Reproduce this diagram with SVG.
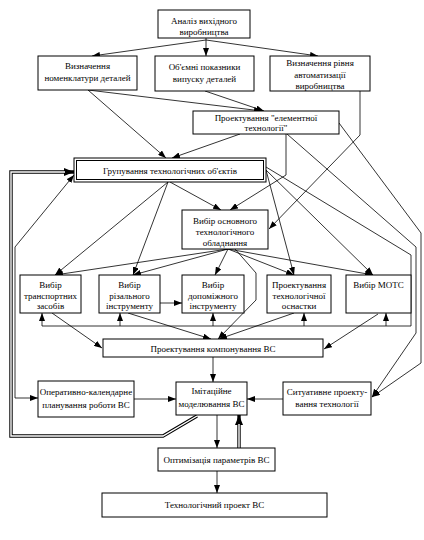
<svg xmlns="http://www.w3.org/2000/svg" width="424" height="540" viewBox="0 0 424 540">
<defs>
<marker id="a" viewBox="0 0 8 6" refX="8" refY="3" markerWidth="8" markerHeight="6" markerUnits="userSpaceOnUse" orient="auto"><path d="M0,0 L8,3 L0,6 z" fill="#000"/></marker>
<marker id="s" viewBox="0 0 8 6" refX="0" refY="3" markerWidth="8" markerHeight="6" markerUnits="userSpaceOnUse" orient="auto"><path d="M8,0 L0,3 L8,6 z" fill="#000"/></marker>
<marker id="b" viewBox="0 0 10 8" refX="10" refY="4" markerWidth="10" markerHeight="8" markerUnits="userSpaceOnUse" orient="auto"><path d="M0,0 L10,4 L0,8 z" fill="#000"/></marker>
<style>
rect{fill:#fff;stroke:#000;stroke-width:1}
text{font-family:"Liberation Serif","Times New Roman",serif;font-size:9px;fill:#000;text-anchor:middle}
.c path{fill:none;stroke:#000;stroke-width:0.8}
.c .dbo{stroke-width:3.4}
.c .dbi{stroke:#fff;stroke-width:1.4}
</style>
</defs>
<rect x="0" y="0" width="424" height="540" style="fill:#fff;stroke:none"/>
<g class="c" id="connectors">
<path d="M206,40 L92,56" marker-end="url(#a)"/>
<path d="M206,38 L206,56" marker-end="url(#a)"/>
<path d="M206,40 L318,56" marker-end="url(#a)"/>
<path d="M88,90 L262,111" marker-end="url(#a)"/>
<path d="M205,91 L264,111" marker-end="url(#a)"/>
<path d="M88,90 L166,158" marker-end="url(#a)"/>
<path d="M240,134 L172,158" marker-end="url(#a)"/>
<path d="M360,91 L360,135 L269,229" marker-end="url(#a)"/>
<path d="M286,134 L286,175 L230,210" marker-end="url(#a)"/>
<path d="M170,182 L221,210" marker-end="url(#a)"/>
<path d="M168,182 L55,275" marker-end="url(#a)"/>
<path d="M168,182 L133,275" marker-end="url(#a)"/>
<path d="M266,170 L294,275" marker-end="url(#a)"/>
<path d="M266,170 L373,275" marker-end="url(#a)"/>
<path d="M266,167 L411,255 L411,326 L42,326"/>
<path d="M42,326 L42,313" marker-end="url(#a)"/>
<path d="M120,326 L120,313" marker-end="url(#a)"/>
<path d="M213,326 L213,313" marker-end="url(#a)"/>
<path d="M304,326 L304,313" marker-end="url(#a)"/>
<path d="M386,326 L386,313" marker-end="url(#a)"/>
<path d="M287,134 L416,247 L416,333 L372,397" marker-end="url(#a)"/>
<path d="M339,123 L421,233 L421,363 L372,397" marker-end="url(#a)"/>
<path d="M228,249 L55,275" marker-end="url(#a)"/>
<path d="M228,249 L133,275" marker-end="url(#a)"/>
<path d="M228,249 L215,275" marker-end="url(#a)"/>
<path d="M228,249 L294,275" marker-end="url(#a)"/>
<path d="M228,249 L373,275" marker-end="url(#a)"/>
<path d="M235,249 L256,273 L256,300 L218,339" marker-end="url(#a)"/>
<path d="M160,303 L182,303" marker-end="url(#a)"/>
<path d="M52,313 L102,348" marker-end="url(#a)"/>
<path d="M128,313 L211,339" marker-end="url(#a)"/>
<path d="M294,313 L219,339" marker-end="url(#a)"/>
<path d="M378,314 L324,349" marker-end="url(#a)"/>
<path d="M213,357 L213,382" marker-end="url(#a)"/>
<path d="M134,399 L176,399" marker-end="url(#a)"/>
<path d="M283,399 L247,399" marker-end="url(#a)"/>
<path d="M217,415 L217,448" marker-end="url(#a)"/>
<path d="M217,471 L217,493" marker-end="url(#a)"/>
<path d="M74,175 L15,247 L15,398 L38,398" marker-start="url(#s)" marker-end="url(#a)"/>
<path class="dbo" d="M197,416 L163,436 L11,436 L11,172 L74,172" marker-end="url(#b)"/>
<path class="dbi" d="M197,416 L163,436 L11,436 L11,172 L65,172"/>
<path class="dbo" d="M239,448 L239,415" marker-end="url(#b)"/>
<path class="dbi" d="M239,448 L239,424"/>
</g>
<g id="n1"><rect x="158" y="10" width="92" height="28"/><text x="204" y="24">Аналіз вихідного</text><text x="204" y="34.5">виробництва</text></g>
<g id="n2"><rect x="38" y="56" width="99" height="34"/><text x="87.5" y="69">Визначення</text><text x="87.5" y="80.5">номенклатури деталей</text></g>
<g id="n3"><rect x="155" y="56" width="99" height="35"/><text x="204.5" y="70">Об'ємні показники</text><text x="204.5" y="81.5">випуску деталей</text></g>
<g id="n4"><rect x="270" y="56" width="100" height="35"/><text x="320" y="66">Визначення рівня</text><text x="320" y="77.5">автоматизації</text><text x="320" y="89">виробництва</text></g>
<g id="n5"><rect x="193" y="111" width="146" height="23"/><text x="266" y="120.5">Проектування "елементної</text><text x="266" y="131">технології"</text></g>
<g id="n6"><rect x="74" y="158" width="192" height="24"/><rect x="76.5" y="160.5" width="187" height="19"/><text x="170" y="173.5">Групування технологічних об'єктів</text></g>
<g id="n7"><rect x="182" y="210" width="86" height="39"/><text x="225" y="224">Вибір основного</text><text x="225" y="235">технологічного</text><text x="225" y="246">обладнання</text></g>
<g id="n8"><rect x="20" y="275" width="61" height="38"/><text x="50.5" y="288">Вибір</text><text x="50.5" y="298.5">транспортних</text><text x="50.5" y="309">засобів</text></g>
<g id="n9"><rect x="99" y="275" width="61" height="38"/><text x="129.5" y="288">Вибір</text><text x="129.5" y="298.5">різального</text><text x="129.5" y="309">інструменту</text></g>
<g id="n10"><rect x="182" y="275" width="62" height="38"/><text x="213" y="288">Вибір</text><text x="213" y="298.5">допоміжного</text><text x="213" y="309">інструменту</text></g>
<g id="n11"><rect x="267" y="275" width="64" height="38"/><text x="299" y="288">Проектування</text><text x="299" y="298.5">технологічної</text><text x="299" y="309">оснастки</text></g>
<g id="n12"><rect x="346" y="275" width="65" height="38"/><text x="378.5" y="288">Вибір МОТС</text></g>
<g id="n13"><rect x="103" y="339" width="220" height="18"/><text x="213" y="351.5">Проектування компонування ВС</text></g>
<g id="n14"><rect x="38" y="381" width="96" height="36"/><text x="86" y="395">Оперативно-календарне</text><text x="86" y="408">планування роботи ВС</text></g>
<g id="n15"><rect x="176" y="382" width="71" height="33"/><text x="211.5" y="394">Імітаційне</text><text x="211.5" y="407">моделювання ВС</text></g>
<g id="n16"><rect x="283" y="382" width="88" height="33"/><text x="327" y="395">Ситуативне проекту-</text><text x="327" y="407">вання технології</text></g>
<g id="n17"><rect x="158" y="448" width="117" height="23"/><text x="216.5" y="462.5">Оптимізація параметрів ВС</text></g>
<g id="n18"><rect x="102" y="493" width="225" height="24"/><text x="214.5" y="508">Технологічний проект ВС</text></g>
</svg>
